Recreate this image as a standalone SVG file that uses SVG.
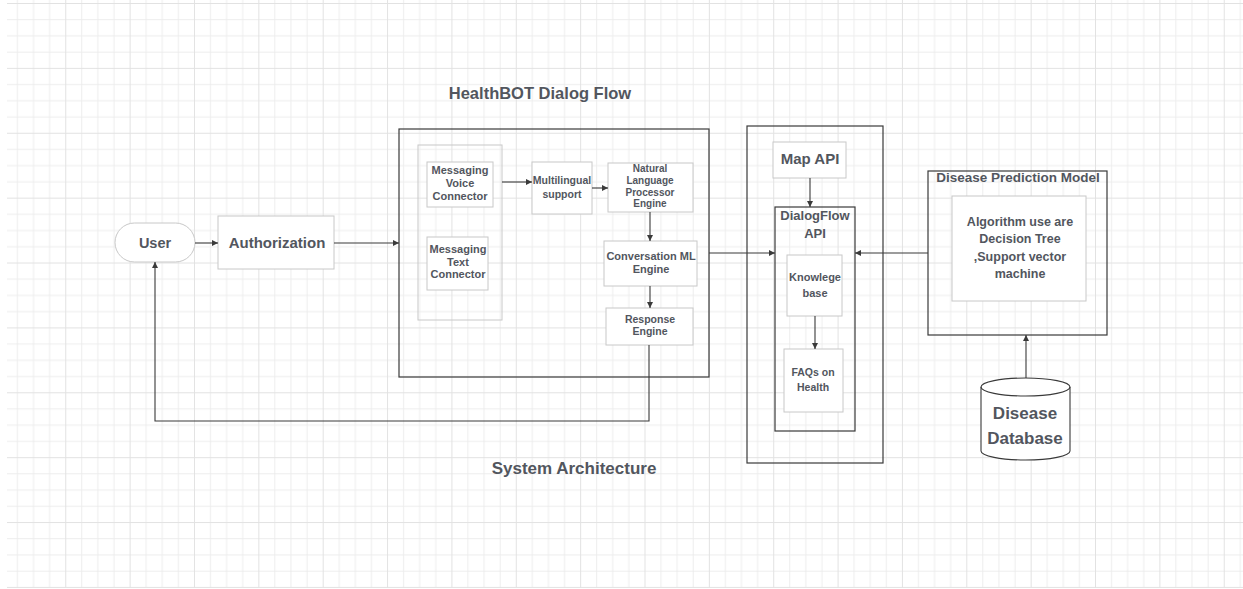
<svg xmlns="http://www.w3.org/2000/svg" width="1243" height="589" viewBox="0 0 1243 589">
  <style>
    .txt { font-family: "Liberation Sans", Arial, sans-serif; font-weight: bold; fill: #52565e; text-anchor: middle; }
    .node { fill: #ffffff; stroke: #c8c8c8; stroke-width: 1; }
    .cont { fill: none; stroke: #c8c8c8; stroke-width: 1; }
    .frame { fill: none; stroke: #3a3a3a; stroke-width: 1.2; }
    .conn { fill: none; stroke: #3a3a3a; stroke-width: 1.1; }
  </style>
  <defs>
    <pattern id="grid" patternUnits="userSpaceOnUse" x="0.9" y="3" width="64.36" height="64.88">
      <rect x="16.09" y="0" width="0.9" height="64.88" fill="#ebebeb"/>
      <rect x="32.18" y="0" width="0.9" height="64.88" fill="#ebebeb"/>
      <rect x="48.27" y="0" width="0.9" height="64.88" fill="#ebebeb"/>
      <rect x="0" y="16.22" width="64.36" height="0.9" fill="#ebebeb"/>
      <rect x="0" y="32.44" width="64.36" height="0.9" fill="#ebebeb"/>
      <rect x="0" y="48.66" width="64.36" height="0.9" fill="#ebebeb"/>
      <rect x="0" y="0" width="1" height="64.88" fill="#e2e2e2"/>
      <rect x="0" y="0" width="64.36" height="1" fill="#e2e2e2"/>
    </pattern>
    <marker id="arr" viewBox="0 0 6 6" refX="6" refY="3" markerWidth="6" markerHeight="6" markerUnits="userSpaceOnUse" orient="auto">
      <path d="M0,0 L6,3 L0,6 Z" fill="#3a3a3a"/>
    </marker>
  </defs>

  <rect x="0" y="0" width="1243" height="589" fill="#ffffff"/>
  <rect x="7" y="0" width="1236" height="588" fill="url(#grid)"/>

  <g id="titles">
    <text class="txt" x="540" y="99" font-size="16.5">HealthBOT Dialog Flow</text>
    <text class="txt" x="574" y="474" font-size="17">System Architecture</text>
  </g>

  <g id="dialog-frame">
    <rect class="frame" x="399" y="129" width="310" height="248"/>
  </g>
  <g id="api-frame">
    <rect class="frame" x="747" y="126" width="136" height="337"/>
  </g>

  <g id="user">
    <rect class="node" x="115" y="223" width="80" height="39" rx="19.5" ry="19.5"/>
    <text class="txt" x="155" y="247.5" font-size="14.5">User</text>
  </g>

  <g id="authorization">
    <rect class="node" x="218" y="216" width="116" height="53"/>
    <text class="txt" x="277" y="248" font-size="15">Authorization</text>
  </g>

  <g id="connectors-container">
    <rect class="cont" x="418" y="145" width="84" height="175"/>
  </g>

  <g id="voice-connector">
    <rect class="node" x="427" y="162" width="66" height="45"/>
    <text class="txt" font-size="11"><tspan x="460" y="174">Messaging</tspan><tspan x="460" y="187">Voice</tspan><tspan x="460" y="200">Connector</tspan></text>
  </g>

  <g id="text-connector">
    <rect class="node" x="427" y="237" width="61" height="53"/>
    <text class="txt" font-size="11"><tspan x="458" y="253">Messaging</tspan><tspan x="458" y="266">Text</tspan><tspan x="458" y="278">Connector</tspan></text>
  </g>

  <g id="multilingual">
    <rect class="node" x="532" y="162" width="60" height="52"/>
    <text class="txt" font-size="10.5"><tspan x="562" y="184">Multilingual</tspan><tspan x="562" y="198">support</tspan></text>
  </g>

  <g id="nlp-engine">
    <rect class="node" x="608" y="163" width="85" height="49"/>
    <text class="txt" font-size="10"><tspan x="650" y="172">Natural</tspan><tspan x="650" y="184">Language</tspan><tspan x="650" y="195.5">Processor</tspan><tspan x="650" y="207">Engine</tspan></text>
  </g>

  <g id="conversation-engine">
    <rect class="node" x="604" y="241" width="93" height="45"/>
    <text class="txt" font-size="11"><tspan x="651" y="260">Conversation ML</tspan><tspan x="651" y="272.5">Engine</tspan></text>
  </g>

  <g id="response-engine">
    <rect class="node" x="606" y="308" width="87" height="37"/>
    <text class="txt" font-size="10.5"><tspan x="650" y="323">Response</tspan><tspan x="650" y="335">Engine</tspan></text>
  </g>

  <g id="map-api">
    <rect class="node" x="773" y="142" width="73" height="36"/>
    <text class="txt" x="810" y="164" font-size="15">Map API</text>
  </g>

  <g id="dialogflow-api">
    <rect class="frame" x="775" y="207" width="80" height="224"/>
    <text class="txt" font-size="13"><tspan x="815" y="219.5">DialogFlow</tspan><tspan x="815" y="237.5">API</tspan></text>
  </g>

  <g id="knowledge-base">
    <rect class="node" x="787" y="255" width="55" height="61"/>
    <text class="txt" font-size="11"><tspan x="815" y="281">Knowlege</tspan><tspan x="815" y="297">base</tspan></text>
  </g>

  <g id="faqs">
    <rect class="node" x="784" y="349" width="59" height="63"/>
    <text class="txt" font-size="10.5"><tspan x="813" y="376">FAQs on</tspan><tspan x="813" y="391">Health</tspan></text>
  </g>

  <g id="disease-prediction-model">
    <rect class="frame" x="928" y="171" width="179" height="164"/>
    <text class="txt" x="1018" y="182" font-size="13.5">Disease Prediction Model</text>
  </g>

  <g id="algorithm">
    <rect class="node" x="952" y="196" width="134" height="105"/>
    <text class="txt" font-size="12.5"><tspan x="1020" y="225.5">Algorithm use are</tspan><tspan x="1020" y="242.5">Decision Tree</tspan><tspan x="1020" y="260.5">,Support vector</tspan><tspan x="1020" y="277.5">machine</tspan></text>
  </g>

  <g id="disease-database">
    <path d="M981,387 A44.5,9 0 0,1 1070,387 L1070,451 A44.5,9 0 0,1 981,451 Z" fill="#ffffff" stroke="#3a3a3a" stroke-width="1.1"/>
    <path d="M981,387 A44.5,9 0 0,0 1070,387" fill="none" stroke="#3a3a3a" stroke-width="1.1"/>
    <text class="txt" font-size="17"><tspan x="1025" y="419">Disease</tspan><tspan x="1025" y="444">Database</tspan></text>
  </g>

  <g id="connectors">
    <path class="conn" d="M195,243 H218" marker-end="url(#arr)"/>
    <path class="conn" d="M334,243 H399" marker-end="url(#arr)"/>
    <path class="conn" d="M502,182 H532" marker-end="url(#arr)"/>
    <path class="conn" d="M592,188 H608" marker-end="url(#arr)"/>
    <path class="conn" d="M650,212 V241" marker-end="url(#arr)"/>
    <path class="conn" d="M650,286 V308" marker-end="url(#arr)"/>
    <path class="conn" d="M649,345 V421 H155 V262" marker-end="url(#arr)"/>
    <path class="conn" d="M709,253 H775" marker-end="url(#arr)"/>
    <path class="conn" d="M928,253 H855" marker-end="url(#arr)"/>
    <path class="conn" d="M810,178 V207" marker-end="url(#arr)"/>
    <path class="conn" d="M815,316 V349" marker-end="url(#arr)"/>
    <path class="conn" d="M1026,378 V335" marker-end="url(#arr)"/>
  </g>
</svg>
